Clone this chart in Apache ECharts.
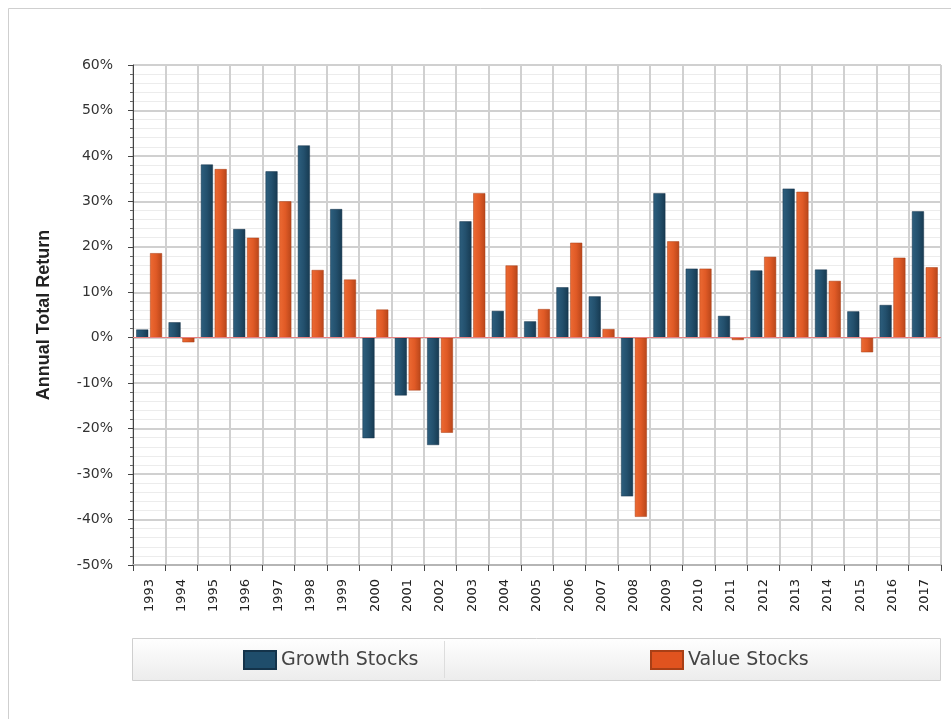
<!DOCTYPE html>
<html><head><meta charset="utf-8">
<script src="https://cdn.jsdelivr.net/npm/echarts@6/dist/echarts.min.js"></script>
<style>html,body{margin:0;padding:0;background:#fff}#c{width:951px;height:719px}</style>
</head><body><div id="c"></div>
<script>
const years = ['1993','1994','1995','1996','1997','1998','1999','2000','2001','2002','2003','2004','2005','2006','2007','2008','2009','2010','2011','2012','2013','2014','2015','2016','2017'];
const growthStocks = [1.8,3.4,38.1,23.9,36.6,42.3,28.3,-22.1,-12.7,-23.6,25.6,5.9,3.6,11.1,9.1,-34.9,31.8,15.2,4.8,14.8,32.8,15.0,5.8,7.2,27.8];
const valueStocks = [18.6,-1.0,37.1,22.0,30.0,14.9,12.8,6.2,-11.6,-20.9,31.8,15.9,6.3,20.9,1.9,-39.4,21.2,15.2,-0.5,17.8,32.1,12.5,-3.2,17.6,15.5];
const yTicks = {min:-50, max:60, interval:10};

const font = 'DejaVu Sans';
const chart = echarts.init(document.getElementById('c'), null, {renderer:'canvas'});
const gGrad = new echarts.graphic.LinearGradient(0,0,1,0,[{offset:0,color:'#2d5f7e'},{offset:0.5,color:'#23506d'},{offset:1,color:'#173a51'}]);
const vGrad = new echarts.graphic.LinearGradient(0,0,1,0,[{offset:0,color:'#ec6a33'},{offset:0.5,color:'#e05a26'},{offset:1,color:'#b8461a'}]);
chart.setOption({
  animation:false,
  backgroundColor:'#fff',
  graphic:[
    {type:'rect', shape:{x:8.5,y:8.5,width:960,height:720}, style:{fill:'none',stroke:'#cfcfcf',lineWidth:1}, silent:true, z:-10},
    {type:'rect', shape:{x:132.5,y:638.5,width:808,height:42}, style:{fill:new echarts.graphic.LinearGradient(0,0,0,1,[{offset:0,color:'#ffffff'},{offset:1,color:'#ececec'}]),stroke:'#cfcfcf',lineWidth:1}, silent:true, z:-5},
    {type:'line', shape:{x1:444.5,y1:641,x2:444.5,y2:678}, style:{stroke:'#dddddd',lineWidth:1}, silent:true, z:-4}
  ],
  legend:[
    {data:[{name:'Growth Stocks', itemStyle:{color:'#1f4d6b'}}], left:238, top:645, itemWidth:32, itemHeight:18, itemGap:8, icon:'rect', textStyle:{fontFamily:font,fontSize:19,color:'#444'}},
    {data:[{name:'Value Stocks', itemStyle:{color:'#e0531f'}}], left:645, top:645, itemWidth:32, itemHeight:18, itemGap:8, icon:'rect', textStyle:{fontFamily:font,fontSize:19,color:'#444'}}
  ],
  grid:{left:133, right:10, top:65, bottom:154},
  xAxis:{
    type:'category', data:years,
    axisLine:{onZero:false, lineStyle:{color:'#b5b5b5', width:2}},
    axisTick:{show:true, length:6, lineStyle:{color:'#444'}},
    axisLabel:{rotate:90, fontFamily:font, fontSize:13, color:'#222', margin:14},
    splitLine:{show:true, lineStyle:{color:'#d0d0d0', width:2}}
  },
  yAxis:{
    type:'value', min:yTicks.min, max:yTicks.max, interval:yTicks.interval,
    name:'Annual Total Return', nameLocation:'middle', nameGap:80,
    nameTextStyle:{fontFamily:'Liberation Sans', fontSize:18, fontWeight:'bold', color:'#222'},
    axisLine:{show:true, lineStyle:{color:'#444', width:1}},
    axisTick:{show:true, length:5, lineStyle:{color:'#444'}},
    minorTick:{show:true, splitNumber:5, length:3, lineStyle:{color:'#666'}},
    minorSplitLine:{show:true, lineStyle:{color:'#ececec'}},
    axisLabel:{formatter:'{value}%', fontFamily:font, fontSize:14, color:'#333', margin:20},
    splitLine:{show:true, lineStyle:{color:'#d0d0d0', width:2}}
  },
  series:[
    {name:'Growth Stocks', type:'bar', data:growthStocks, barWidth:12, barGap:'15%',
     itemStyle:{color:gGrad, borderColor:'#14334a', borderWidth:0.5},
     markLine:{silent:true, symbol:'none', label:{show:false}, data:[{yAxis:0}], lineStyle:{color:'#e88080', width:1, type:'solid'}}},
    {name:'Value Stocks', type:'bar', data:valueStocks, barWidth:12, barGap:'15%',
     itemStyle:{color:vGrad, borderColor:'#a83f16', borderWidth:0.5}}
  ]
});
</script></body></html>
